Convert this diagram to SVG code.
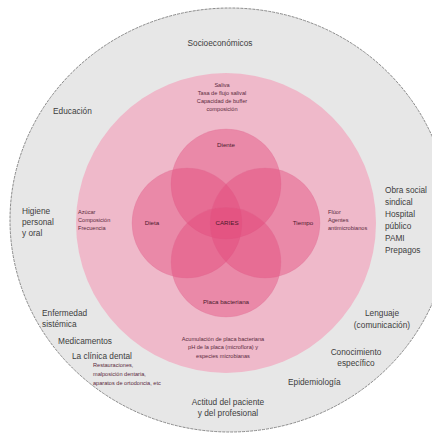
<svg xmlns="http://www.w3.org/2000/svg" width="432" height="436" viewBox="0 0 432 436">
<style>
text{font-family:"Liberation Sans","DejaVu Sans",sans-serif}
.o{font-size:8.3px;fill:#3d3d3d}
.p{font-size:5.6px;fill:#5a2a3c}
.i{font-size:6.2px;fill:#4a1a2c}
.c{text-anchor:middle}
.inner{fill:#e2477a;fill-opacity:0.42;stroke:#e06a92;stroke-width:0.5;stroke-opacity:0.5}
</style>
<rect width="432" height="436" fill="#ffffff"/>
<g id="outer">
<ellipse cx="230" cy="220" rx="220" ry="212" fill="#e7e7e7" stroke="#8a8a8a" stroke-width="1" stroke-dasharray="3 1"/>
</g>
<g id="pink">
<circle cx="226" cy="223" r="150" fill="#efb9ca"/>
</g>
<g id="connectors"/>
<g id="diente"><circle class="inner" cx="226" cy="184" r="55"/></g>
<g id="dieta"><circle class="inner" cx="187" cy="223" r="55"/></g>
<g id="tiempo"><circle class="inner" cx="265" cy="223" r="55"/></g>
<g id="placa"><circle class="inner" cx="226" cy="262" r="55"/></g>
<g id="labels-outer">
<text class="o c" x="220" y="46">Socioeconómicos</text>
<text class="o" x="53" y="114">Educación</text>
<text class="o" x="22" y="214">Higiene</text>
<text class="o" x="22" y="225">personal</text>
<text class="o" x="22" y="236">y oral</text>
<text class="o" x="385" y="193">Obra social</text>
<text class="o" x="385" y="205">sindical</text>
<text class="o" x="385" y="217">Hospital</text>
<text class="o" x="385" y="229">público</text>
<text class="o" x="385" y="241">PAMI</text>
<text class="o" x="385" y="253">Prepagos</text>
<text class="o" x="42" y="316">Enfermedad</text>
<text class="o" x="42" y="327">sistémica</text>
<text class="o" x="58" y="344">Medicamentos</text>
<text class="o" x="72" y="359">La clínica dental</text>
<text class="p" x="93" y="367" fill="#555">Restauraciones,</text>
<text class="p" x="93" y="376" fill="#555">malposición dentaria,</text>
<text class="p" x="93" y="385" fill="#555">aparatos de ortodoncia, etc</text>
<text class="o c" x="382" y="316">Lenguaje</text>
<text class="o c" x="382" y="328">(comunicación)</text>
<text class="o c" x="356" y="355">Conocimiento</text>
<text class="o c" x="356" y="366">específico</text>
<text class="o" x="288" y="385">Epidemiología</text>
<text class="o c" x="228" y="405">Actitud del paciente</text>
<text class="o c" x="228" y="416">y del profesional</text>
</g>
<g id="labels-pink">
<text class="p c" x="222" y="87">Saliva</text>
<text class="p c" x="222" y="95">Tasa de flujo salival</text>
<text class="p c" x="222" y="103">Capacidad de buffer</text>
<text class="p c" x="222" y="111">composición</text>
<text class="p" x="78" y="214">Azúcar</text>
<text class="p" x="78" y="222">Composición</text>
<text class="p" x="78" y="230">Frecuencia</text>
<text class="p" x="328" y="214">Flúor</text>
<text class="p" x="328" y="222">Agentes</text>
<text class="p" x="328" y="230">antimicrobianos</text>
<text class="p c" x="223" y="341">Acumulación de placa bacteriana</text>
<text class="p c" x="223" y="349">pH de la placa (microflora) y</text>
<text class="p c" x="223" y="358">especies microbianas</text>
</g>
<g id="labels-inner">
<text class="i c" x="226" y="147">Diente</text>
<text class="i c" x="152" y="225">Dieta</text>
<text class="i c" x="227" y="225">CARIES</text>
<text class="i c" x="303" y="225">Tiempo</text>
<text class="i c" x="226" y="304">Placa bacteriana</text>
</g>
</svg>
